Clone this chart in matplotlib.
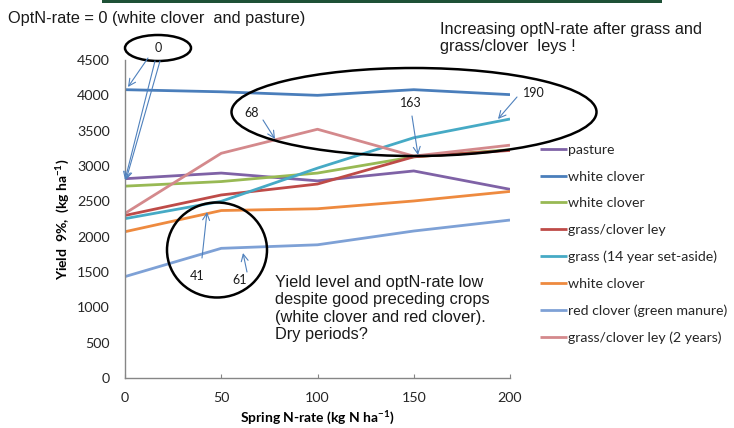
import matplotlib
matplotlib.use("Agg")
import matplotlib.pyplot as plt
from matplotlib.patches import Ellipse, Rectangle, FancyArrowPatch

plt.rcParams["mathtext.fontset"] = "custom"
plt.rcParams["mathtext.rm"] = "Lato"
plt.rcParams["mathtext.bf"] = "Lato:bold"

# ---- data ----
n_rates = [0, 50, 100, 150, 200]
series_labels = ["pasture", "white clover", "white clover", "grass/clover ley",
                 "grass (14 year set-aside)", "white clover",
                 "red clover (green manure)", "grass/clover ley (2 years)"]
pasture = [2820, 2900, 2790, 2930, 2670]
white_clover_a = [4080, 4050, 4000, 4080, 4010]
white_clover_b = [2715, 2780, 2900, 3130, 3230]
grass_clover_ley = [2300, 2590, 2745, 3130, 3220]
grass_set_aside = [2255, 2500, 2970, 3400, 3665]
white_clover_c = [2070, 2370, 2395, 2505, 2640]
red_clover = [1435, 1835, 1885, 2080, 2235]
grass_clover_ley_2y = [2330, 3180, 3520, 3140, 3295]
series_values = [pasture, white_clover_a, white_clover_b, grass_clover_ley,
                 grass_set_aside, white_clover_c, red_clover, grass_clover_ley_2y]
colors = ["#7F62A6", "#4A7EBB", "#98B954", "#BE4B48", "#46AAC5", "#EE8A3F",
          "#7EA1D6", "#D4898C"]
y_ticks = [0, 500, 1000, 1500, 2000, 2500, 3000, 3500, 4000, 4500]
x_ticks = [0, 50, 100, 150, 200]

W, H = 734, 428
fig = plt.figure(figsize=(W / 100, H / 100), dpi=100)

def fp(x, y):
    return (x / W, 1 - y / H)

CAL = "Lato"
ARIAL = "Liberation Sans"

ax = fig.add_axes([125 / W, 1 - 378 / H, (510 - 125) / W, (378 - 60) / H])
for vals, lab, c in zip(series_values, series_labels, colors):
    ax.plot(n_rates, vals, color=c, lw=2.0, label=lab, solid_capstyle="butt")

ax.set_xlim(0, 200)
ax.set_ylim(0, 4500)
ax.set_xticks(x_ticks)
ax.set_yticks(y_ticks)
ax.set_xticklabels([str(v) for v in x_ticks], fontfamily=CAL, fontsize=10.3, color="#262626")
ax.set_yticklabels([str(v) for v in y_ticks], fontfamily=CAL, fontsize=10.3, color="#262626")
ax.tick_params(axis="y", length=0, pad=11)
ax.tick_params(axis="x", direction="in", length=3, color="#868686", pad=10)
for s in ["top", "right"]:
    ax.spines[s].set_visible(False)
for s in ["left", "bottom"]:
    ax.spines[s].set_color("#868686")
    ax.spines[s].set_linewidth(1.0)

ax.set_xlabel(r"Spring N-rate (kg N ha$^{\mathbf{-1}}$)", fontfamily=CAL, fontsize=10,
              fontweight="bold", labelpad=3)
ax.set_ylabel(r"Yield  9%,  (kg ha$^{\mathbf{-1}}$)", fontfamily=CAL, fontsize=10,
              fontweight="bold", labelpad=4)

leg = fig.legend(loc="upper left", bbox_to_anchor=fp(540, 144), frameon=False,
                 prop={"family": CAL, "size": 10.2}, handlelength=1.9,
                 handletextpad=0.05, labelspacing=1.03, borderaxespad=0,
                 borderpad=0)
for t in leg.get_texts():
    t.set_color("#262626")

# header bar
fig.add_artist(Rectangle(fp(102, 3), (662 - 102) / W, 3 / H,
                         transform=fig.transFigure, color="#1E5136", lw=0))

# texts
fig.text(*fp(8, 19), "OptN-rate = 0 (white clover  and pasture)", fontfamily=ARIAL,
         fontsize=11.8, va="center", ha="left", color="#1a1a1a")
fig.text(*fp(440, 22), "Increasing optN-rate after grass and\ngrass/clover  leys !",
         fontfamily=ARIAL, fontsize=11.8, va="top", ha="left", color="#1a1a1a",
         linespacing=1.2)
fig.text(*fp(275, 275), "Yield level and optN-rate low\ndespite good preceding crops\n"
         "(white clover and red clover).\nDry periods?",
         fontfamily=ARIAL, fontsize=11.8, va="top", ha="left", color="#1a1a1a",
         linespacing=1.2)

# ellipses
for (cx, cy, w, h) in [(158, 48, 66, 26), (414, 112, 365, 88), (217, 250, 100, 95)]:
    fig.add_artist(Ellipse(fp(cx, cy), w / W, h / H, transform=fig.transFigure,
                           fill=False, ec="black", lw=1.8))

# small labels
for (tx, ty, s) in [(158, 48, "0"), (252, 113, "68"), (411, 103, "163"),
                    (534, 93, "190"), (197, 276, "41"), (240, 280, "61")]:
    fig.text(*fp(tx, ty), s, fontfamily=CAL, fontsize=9, ha="center", va="center",
             color="#1a1a1a")

# arrows
for (x0, y0, x1, y1) in [(148, 58, 128, 87), (155, 61, 125, 180), (160, 61, 126, 180),
                         (263, 120, 275, 139), (412, 116, 418, 155),
                         (517, 97, 498, 119), (202, 258, 207, 212),
                         (247, 272, 243, 253)]:
    fig.add_artist(FancyArrowPatch(fp(x0, y0), fp(x1, y1), transform=fig.transFigure,
                                   arrowstyle="->,head_length=5,head_width=2.5",
                                   color="#4F81BD", lw=0.8, shrinkA=0, shrinkB=0))

fig.savefig("out.png", dpi=100)
